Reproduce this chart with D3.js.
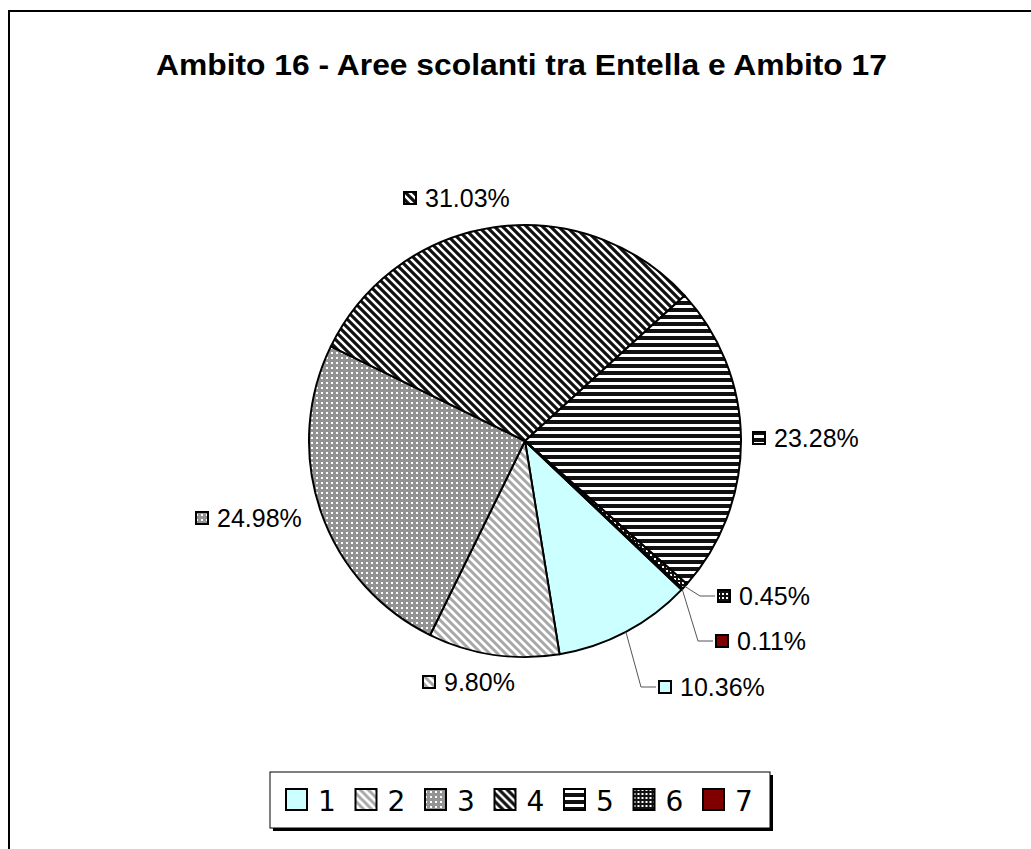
<!DOCTYPE html>
<html>
<head>
<meta charset="utf-8">
<script src="https://cdn.jsdelivr.net/npm/d3@7"></script>
<style>
  body { margin: 0; background: #fff; }
  svg { display: block; font-family: "Liberation Sans", Arial, sans-serif; }
</style>
</head>
<body>
<div id="chart"></div>
<script>

// chart data
var title = "Ambito 16 - Aree scolanti tra Entella e Ambito 17";
var categories = ["1", "2", "3", "4", "5", "6", "7"];
var values = [10.36, 9.80, 24.98, 31.03, 23.28, 0.45, 0.11];
var valueLabels = ["10.36%", "9.80%", "24.98%", "31.03%", "23.28%", "0.45%", "0.11%"];

// layout
var width = 1031, height = 849;
var cx = 525, cy = 441, radius = 216;
var startDeg = 133.5;

// where each data label sits (icon left, label middle) and whether it gets a leader line
var labelPos = [
  {x: 658, y: 687, leader: true},
  {x: 422, y: 682, leader: false},
  {x: 195, y: 518, leader: false},
  {x: 403, y: 198, leader: false},
  {x: 752, y: 438, leader: false},
  {x: 717, y: 596, leader: true},
  {x: 715, y: 641, leader: true}
];

var svg = d3.select("#chart")
  .append("svg")
    .attr("width", width)
    .attr("height", height);

// fill patterns, one for each category
var defs = svg.append("defs");

function pattern(id, size) {
  return defs.append("pattern")
    .attr("id", id)
    .attr("patternUnits", "userSpaceOnUse")
    .attr("width", size)
    .attr("height", size);
}

// 2 - light wide downward diagonal
var p2 = pattern("pat2", 8);
p2.append("rect").attr("width", 8).attr("height", 8).attr("fill", "#fff");
p2.append("path").attr("d", "M-2,-2L10,10M-2,6L2,10M6,-2L10,2")
  .attr("stroke", "#a8a8a8").attr("stroke-width", 3);

// 3 - gray with white dots
var p3 = pattern("pat3", 5);
p3.append("rect").attr("width", 5).attr("height", 5).attr("fill", "#939393");
p3.append("rect").attr("x", 1).attr("y", 1).attr("width", 2).attr("height", 2).attr("fill", "#fff");

// 4 - dark wide downward diagonal
var p4 = pattern("pat4", 8);
p4.append("rect").attr("width", 8).attr("height", 8).attr("fill", "#fff");
p4.append("path").attr("d", "M-2,-2L10,10M-2,6L2,10M6,-2L10,2")
  .attr("stroke", "#111").attr("stroke-width", 3.2);

// 5 - dark horizontal
var p5 = pattern("pat5", 7);
p5.append("rect").attr("width", 7).attr("height", 7).attr("fill", "#fff");
p5.append("rect").attr("width", 7).attr("height", 4).attr("fill", "#111");

// 6 - black with white dots
var p6 = pattern("pat6", 4);
p6.append("rect").attr("width", 4).attr("height", 4).attr("fill", "#111");
p6.append("rect").attr("x", 1).attr("y", 1).attr("width", 2).attr("height", 2).attr("fill", "#fff");

var fills = ["#ccffff", "url(#pat2)", "url(#pat3)", "url(#pat4)", "url(#pat5)", "url(#pat6)", "#800000"];
var color = d3.scaleOrdinal().domain(categories).range(fills);

// outer chart border (right and bottom edges fall outside the picture)
svg.append("rect")
  .attr("x", 9).attr("y", 11)
  .attr("width", width + 20).attr("height", height + 20)
  .attr("fill", "none")
  .attr("stroke", "#000")
  .attr("stroke-width", 2);

// title
svg.append("text")
  .attr("x", 521.5)
  .attr("y", 75)
  .attr("text-anchor", "middle")
  .attr("textLength", 731)
  .attr("lengthAdjust", "spacingAndGlyphs")
  .style("font-size", "29px")
  .style("font-weight", "bold")
  .text(title);

// pie
var data = categories.map(function(c, i) {
  return {cat: c, value: values[i], label: valueLabels[i], pos: labelPos[i]};
});

var pie = d3.pie()
  .sort(null)
  .value(function(d) { return d.value; })
  .startAngle(startDeg * Math.PI / 180)
  .endAngle((startDeg + 360) * Math.PI / 180);

var arc = d3.arc().innerRadius(0).outerRadius(radius);

var arcs = pie(data);

var g = svg.append("g")
  .attr("transform", "translate(" + cx + "," + cy + ")");

g.selectAll("path.slice")
  .data(arcs)
  .enter()
  .append("path")
    .attr("class", "slice")
    .attr("d", arc)
    .attr("fill", function(d) { return color(d.data.cat); })
    .attr("stroke", "#000")
    .attr("stroke-width", 2)
    .attr("stroke-linejoin", "round");

// leader lines, from the rim at the slice middle to the label key
arcs.filter(function(d) { return d.data.pos.leader; }).forEach(function(d) {
  var a = (d.startAngle + d.endAngle) / 2;
  var x0 = cx + radius * Math.sin(a), y0 = cy - radius * Math.cos(a);
  var p = d.data.pos;
  svg.append("polyline")
    .attr("points", [[x0, y0], [p.x - 17, p.y], [p.x - 2, p.y]].join(" "))
    .attr("fill", "none")
    .attr("stroke", "#555")
    .attr("stroke-width", 1);
});

// data labels with legend keys
var lab = svg.selectAll("g.label")
  .data(arcs)
  .enter()
  .append("g")
    .attr("class", "label")
    .attr("transform", function(d) { return "translate(" + d.data.pos.x + "," + d.data.pos.y + ")"; });

lab.append("rect")
  .attr("x", 1).attr("y", -6)
  .attr("width", 12).attr("height", 12)
  .attr("fill", function(d) { return color(d.data.cat); })
  .attr("stroke", "#000")
  .attr("stroke-width", 2);

lab.append("text")
  .attr("x", 22)
  .attr("y", 9)
  .style("font-size", "25px")
  .text(function(d) { return d.data.label; });

// legend
var legendX = 270, legendY = 772, legendW = 500, legendH = 56, step = 69.5;

svg.append("rect")
  .attr("x", legendX + 3).attr("y", legendY + 3)
  .attr("width", legendW).attr("height", legendH)
  .attr("fill", "#000");
svg.append("rect")
  .attr("x", legendX).attr("y", legendY)
  .attr("width", legendW).attr("height", legendH)
  .attr("fill", "#fff")
  .attr("stroke", "#000")
  .attr("stroke-width", 1);

var item = svg.selectAll("g.legend")
  .data(categories)
  .enter()
  .append("g")
    .attr("class", "legend")
    .attr("transform", function(d, i) { return "translate(" + (legendX + 15 + i * step) + "," + (legendY + 28) + ")"; });

item.append("rect")
  .attr("x", 1).attr("y", -11)
  .attr("width", 21).attr("height", 21)
  .attr("fill", function(d) { return color(d); })
  .attr("stroke", "#000")
  .attr("stroke-width", 2);

item.append("text")
  .attr("x", 33)
  .attr("y", 11)
  .style("font-size", "28px")
  .style("font-family", "'DejaVu Sans', Verdana, sans-serif")
  .text(function(d) { return d; });

</script>
</body>
</html>
